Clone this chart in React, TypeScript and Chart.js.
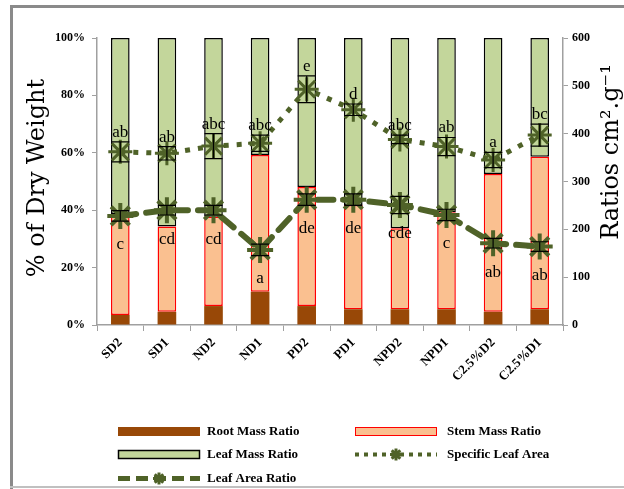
import React, { useEffect, useRef } from "react";
import { Chart, registerables } from "chart.js";
Chart.register(...registerables);

const categories = ["SD2", "SD1", "ND2", "ND1", "PD2", "PD1", "NPD2", "NPD1", "C2.5%D2", "C2.5%D1"];
const rootMass = [3.5, 4.6, 6.6, 11.6, 6.6, 5.5, 5.5, 5.5, 4.6, 5.5];
const stemMass = [35.2, 29.7, 31.1, 47.6, 41.5, 36.3, 28.2, 33.8, 48.0, 53.1];
const leafMass = [61.3, 65.7, 62.3, 40.8, 51.9, 58.2, 66.3, 60.7, 47.4, 41.4];
const specificLeafArea = [362, 359, 374, 380, 493, 450, 388, 373, 345, 397];
const slaError = [21, 14, 26, 17, 28, 12, 9, 19, 16, 23];
const leafAreaRatio = [228, 240, 240, 157, 262, 262, 251, 230, 171, 164];
const larError = [11, 10, 10, 12, 12, 12, 18, 12, 10, 10];
const slaLetters = ["ab", "ab", "abc", "abc", "e", "d", "abc", "ab", "a", "bc"];
const larLetters = ["c", "cd", "cd", "a", "de", "de", "cde", "c", "ab", "ab"];
const leftTicks = [0, 20, 40, 60, 80, 100];
const rightTicks = [0, 100, 200, 300, 400, 500, 600];

const BROWN = "#984807";
const PEACH = "#FAC090";
const LEAF = "#C3D69B";
const OLIVE = "#4F6228";

const drawStar = (ctx: CanvasRenderingContext2D, x: number, y: number, r: number) => {
  ctx.save();
  ctx.strokeStyle = OLIVE;
  ctx.lineWidth = 3;
  ctx.beginPath();
  for (let i = 0; i < 4; i++) {
    const a = (i * Math.PI) / 4;
    ctx.moveTo(x - r * Math.cos(a), y - r * Math.sin(a));
    ctx.lineTo(x + r * Math.cos(a), y + r * Math.sin(a));
  }
  ctx.stroke();
  ctx.restore();
};

const overlayPlugin = {
  id: "overlay",
  beforeDraw(chart: any) {
    const ctx = chart.ctx;
    ctx.save();
    ctx.fillStyle = "#ffffff";
    ctx.fillRect(0, 0, chart.width, chart.height);
    ctx.strokeStyle = "#8a8a8a";
    ctx.lineWidth = 3;
    ctx.beginPath();
    ctx.moveTo(11.5, 489);
    ctx.lineTo(11.5, 6.5);
    ctx.lineTo(630, 6.5);
    ctx.stroke();
    ctx.strokeStyle = "#c0c0c0";
    ctx.lineWidth = 2;
    ctx.beginPath();
    ctx.moveTo(10, 487);
    ctx.lineTo(630, 487);
    ctx.stroke();
    ctx.restore();
  },
  afterDatasetsDraw(chart: any) {
    const ctx = chart.ctx;
    const xs = chart.scales.x;
    const y1 = chart.scales.y1;
    ctx.save();
    ctx.strokeStyle = "#000000";
    ctx.lineWidth = 1.2;
    const drawErr = (vals: number[], errs: number[]) => {
      vals.forEach((v, i) => {
        const x = xs.getPixelForValue(i);
        const top = y1.getPixelForValue(v + errs[i]);
        const bot = y1.getPixelForValue(v - errs[i]);
        ctx.beginPath();
        ctx.moveTo(x, top);
        ctx.lineTo(x, bot);
        ctx.moveTo(x - 9, top);
        ctx.lineTo(x + 9, top);
        ctx.moveTo(x - 9, bot);
        ctx.lineTo(x + 9, bot);
        ctx.stroke();
      });
    };
    drawErr(specificLeafArea, slaError);
    drawErr(leafAreaRatio, larError);
    ctx.fillStyle = "#000000";
    ctx.font = "17px 'Liberation Serif'";
    ctx.textAlign = "center";
    ctx.textBaseline = "alphabetic";
    slaLetters.forEach((t, i) => {
      const x = xs.getPixelForValue(i);
      const top = y1.getPixelForValue(specificLeafArea[i] + slaError[i]);
      ctx.fillText(t, x, top - 5);
    });
    ctx.textBaseline = "middle";
    larLetters.forEach((t, i) => {
      const x = xs.getPixelForValue(i);
      const yy = y1.getPixelForValue(leafAreaRatio[i]);
      ctx.fillText(t, x, yy + 29);
    });
    ctx.restore();
  },
  afterDraw(chart: any) {
    const ctx = chart.ctx;
    const area = chart.chartArea;
    ctx.save();
    ctx.fillStyle = "#000000";
    ctx.font = "24px 'DejaVu Serif'";
    ctx.textAlign = "center";
    ctx.textBaseline = "middle";
    ctx.translate(38, 178);
    ctx.rotate(-Math.PI / 2);
    ctx.fillText("% of Dry Weight", 0, 0);
    ctx.restore();

    ctx.save();
    ctx.fillStyle = "#000000";
    ctx.font = "24px 'DejaVu Serif'";
    ctx.textAlign = "center";
    ctx.textBaseline = "middle";
    ctx.translate(612, 152);
    ctx.rotate(-Math.PI / 2);
    ctx.fillText("Ratios cm\u00B2.g\u207B\u00B9", 0, 0);
    ctx.restore();

    // legend
    ctx.save();
    ctx.font = "bold 13px 'Liberation Serif'";
    ctx.fillStyle = "#000000";
    ctx.textBaseline = "middle";
    ctx.textAlign = "left";
    // Root
    ctx.fillStyle = BROWN;
    ctx.fillRect(118, 427, 82, 9);
    ctx.fillStyle = "#000";
    ctx.fillText("Root Mass Ratio", 207, 431.5);
    // Stem
    ctx.fillStyle = PEACH;
    ctx.fillRect(355, 427, 82, 9);
    ctx.strokeStyle = "#FF0000";
    ctx.lineWidth = 1;
    ctx.strokeRect(355.5, 427.5, 81, 8);
    ctx.fillStyle = "#000";
    ctx.fillText("Stem Mass Ratio", 447, 431.5);
    // Leaf
    ctx.fillStyle = LEAF;
    ctx.fillRect(118, 450, 82, 9);
    ctx.strokeStyle = "#000000";
    ctx.lineWidth = 1.5;
    ctx.strokeRect(118.5, 450.5, 81, 8);
    ctx.fillStyle = "#000";
    ctx.fillText("Leaf Mass Ratio", 207, 454.5);
    // SLA
    ctx.strokeStyle = OLIVE;
    ctx.lineWidth = 4;
    ctx.setLineDash([4, 5]);
    ctx.beginPath();
    ctx.moveTo(355, 454.5);
    ctx.lineTo(437, 454.5);
    ctx.stroke();
    ctx.setLineDash([]);
    drawStar(ctx, 396, 454.5, 6);
    ctx.fillStyle = "#000";
    ctx.fillText("Specific Leaf Area", 447, 454.5);
    // LAR
    ctx.strokeStyle = OLIVE;
    ctx.lineWidth = 5;
    ctx.setLineDash([12, 6]);
    ctx.beginPath();
    ctx.moveTo(118, 478.5);
    ctx.lineTo(200, 478.5);
    ctx.stroke();
    ctx.setLineDash([]);
    drawStar(ctx, 159, 478.5, 6);
    ctx.fillStyle = "#000";
    ctx.fillText("Leaf Area Ratio", 207, 478.5);
    ctx.restore();
  },
};

export default function App() {
  const ref = useRef<HTMLCanvasElement | null>(null);
  useEffect(() => {
    if (!ref.current) return;
    const tickFont = { family: "'Liberation Serif'", size: 12, weight: "bold" as const };
    const xFont = { family: "'Liberation Serif'", size: 13, weight: "bold" as const };
    const chart = new Chart(ref.current, {
      type: "bar",
      data: {
        labels: categories,
        datasets: [
          {
            type: "line",
            label: "Specific Leaf Area",
            data: specificLeafArea,
            yAxisID: "y1",
            borderColor: OLIVE,
            backgroundColor: OLIVE,
            borderWidth: 5,
            borderDash: [5, 8],
            pointStyle: "star",
            pointRadius: 12,
            pointBorderWidth: 3,
            pointBorderColor: OLIVE,
            tension: 0,
            order: 0,
          } as any,
          {
            type: "line",
            label: "Leaf Area Ratio",
            data: leafAreaRatio,
            yAxisID: "y1",
            borderColor: OLIVE,
            backgroundColor: OLIVE,
            borderWidth: 6,
            borderDash: [16, 10],
            borderCapStyle: "round",
            pointStyle: "star",
            pointRadius: 13,
            pointBorderWidth: 4,
            pointBorderColor: OLIVE,
            tension: 0,
            order: 0,
          } as any,
          {
            label: "Root Mass Ratio",
            data: rootMass,
            backgroundColor: BROWN,
            borderWidth: 0,
            stack: "s",
            yAxisID: "y",
            order: 1,
          },
          {
            label: "Stem Mass Ratio",
            data: stemMass,
            backgroundColor: PEACH,
            borderColor: "#FF0000",
            borderWidth: 1.5,
            borderSkipped: false,
            stack: "s",
            yAxisID: "y",
            order: 1,
          },
          {
            label: "Leaf Mass Ratio",
            data: leafMass,
            backgroundColor: LEAF,
            borderColor: "#000000",
            borderWidth: 1.5,
            borderSkipped: false,
            stack: "s",
            yAxisID: "y",
            order: 1,
          },
        ],
      },
      options: {
        animation: false,
        responsive: false,
        devicePixelRatio: 1,
        layout: { padding: { top: 38, left: 0, right: 0, bottom: 0 } },
        plugins: { legend: { display: false }, tooltip: { enabled: false } },
        datasets: { bar: { categoryPercentage: 1, barPercentage: 0.4 } },
        scales: {
          x: {
            stacked: true,
            grid: { offset: true, drawOnChartArea: false, drawTicks: true, tickLength: 6, color: "#a0a0a0" },
            border: { color: "#a0a0a0", width: 1.5 },
            ticks: { font: xFont, color: "#000", maxRotation: 45, minRotation: 45, padding: 4, autoSkip: false },
            afterFit: (s: any) => {
              s.height = 164;
            },
          },
          y: {
            stacked: true,
            position: "left",
            min: 0,
            max: 100,
            afterBuildTicks: (s: any) => {
              s.ticks = leftTicks.map((v) => ({ value: v }));
            },
            grid: { drawOnChartArea: false, drawTicks: true, tickLength: 5, color: "#a0a0a0" },
            border: { color: "#a0a0a0", width: 1.5 },
            ticks: { font: tickFont, color: "#000", padding: 7, callback: (v: any) => v + "%" },
            afterFit: (s: any) => {
              s.width = 97;
            },
          },
          y1: {
            position: "right",
            min: 0,
            max: 600,
            afterBuildTicks: (s: any) => {
              s.ticks = rightTicks.map((v) => ({ value: v }));
            },
            grid: { drawOnChartArea: false, drawTicks: true, tickLength: 5, color: "#a0a0a0" },
            border: { color: "#a0a0a0", width: 1.5 },
            ticks: { font: tickFont, color: "#000", padding: 4 },
            afterFit: (s: any) => {
              s.width = 61;
            },
          },
        },
      },
      plugins: [overlayPlugin],
    });
    return () => chart.destroy();
  }, []);
  return (
    <div style={{ position: "absolute", left: 0, top: 0, width: 624, height: 489, background: "#fff" }}>
      <canvas ref={ref} width={624} height={489} style={{ display: "block", width: 624, height: 489 }} />
    </div>
  );
}
